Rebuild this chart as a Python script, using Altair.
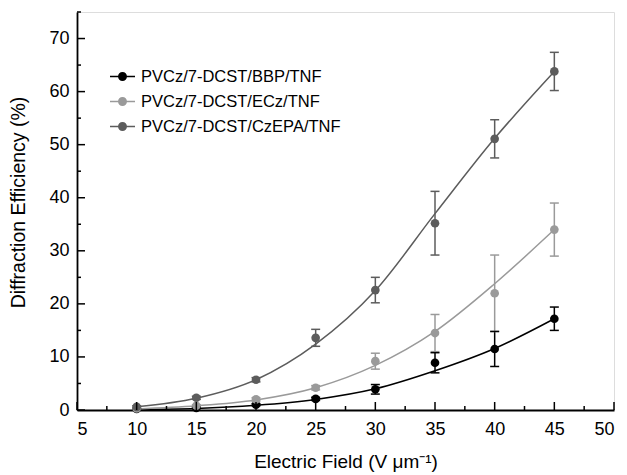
import altair as alt
import pandas as pd

series_names = ["PVCz/7-DCST/BBP/TNF", "PVCz/7-DCST/ECz/TNF", "PVCz/7-DCST/CzEPA/TNF"]
series_colors = ["#000000", "#9a9a9a", "#5c5c5c"]

fields = [10, 15, 20, 25, 30, 35, 40, 45]
bbp = [0.2, 0.4, 1.0, 2.1, 3.9, 8.9, 11.5, 17.2]
bbp_err = [0.1, 0.1, 0.2, 0.3, 0.9, 1.9, 3.3, 2.2]
ecz = [0.3, 0.8, 2.0, 4.2, 9.2, 14.5, 22.0, 34.0]
ecz_err = [0.1, 0.2, 0.3, 0.4, 1.5, 3.5, 7.2, 5.0]
czepa = [0.6, 2.3, 5.7, 13.6, 22.6, 35.2, 51.1, 63.8]
czepa_err = [0.2, 0.3, 0.4, 1.6, 2.4, 6.0, 3.6, 3.6]

bbp_fit = [0.1, 0.3, 0.9, 2.0, 4.0, 7.4, 11.6, 17.2]
ecz_fit = [0.2, 0.8, 1.9, 4.2, 8.4, 14.8, 23.8, 34.0]
czepa_fit = [0.6, 2.2, 5.7, 12.4, 22.5, 37.0, 51.2, 63.8]

x_major = [5, 10, 15, 20, 25, 30, 35, 40, 45, 50]
x_minor = [7.5, 12.5, 17.5, 22.5, 27.5, 32.5, 37.5, 42.5, 47.5]
y_major = [0, 10, 20, 30, 40, 50, 60, 70]
y_minor = [5, 15, 25, 35, 45, 55, 65, 75]

rows = []
for name, vals, errs, fits in zip(series_names, [bbp, ecz, czepa], [bbp_err, ecz_err, czepa_err],
                                  [bbp_fit, ecz_fit, czepa_fit]):
    for f, v, e, ft in zip(fields, vals, errs, fits):
        rows.append({"field": f, "value": v, "lo": v - e, "hi": v + e, "fit": ft, "series": name})
df = pd.DataFrame(rows)

W, H = 537, 398
FONT = "Liberation Sans"

xs = alt.Scale(domain=[5, 50], nice=False)
ys = alt.Scale(domain=[0, 75], nice=False)

legend_path = ("M-1,-0.06H1V0.06H-1Z "
               "M0.36,0A0.36,0.36,0,1,1,-0.36,0A0.36,0.36,0,1,1,0.36,0Z")
legend = alt.Legend(title=None, orient="none", legendX=33, legendY=52,
                    symbolType=legend_path, symbolSize=625, symbolStrokeWidth=0,
                    symbolOpacity=1, labelFont=FONT, labelFontSize=16.5, labelColor="black",
                    rowPadding=4, labelOffset=6, padding=0, labelLimit=400)
color = alt.Color("series:N", scale=alt.Scale(domain=series_names, range=series_colors),
                  legend=legend)

base = alt.Chart(df)

lines = base.mark_line(strokeWidth=1.5, interpolate="monotone").encode(
    x=alt.X("field:Q", scale=xs,
            axis=alt.Axis(values=x_major, title="Electric Field (V \u03bcm\u207b\u00b9)", ticks=False,
                          grid=False, domainColor="black", domainWidth=1.8, labelFont=FONT,
                          labelFontSize=18, labelColor="black", labelPadding=10, titleFont=FONT,
                          titleFontSize=19, titleFontWeight="normal", titleColor="black",
                          titlePadding=14)),
    y=alt.Y("fit:Q", scale=ys,
            axis=alt.Axis(values=y_major, title="Diffraction Efficiency (%)", ticks=False,
                          grid=False, domainColor="black", domainWidth=1.8, labelFont=FONT,
                          labelFontSize=18, labelColor="black", labelPadding=8, titleFont=FONT,
                          titleFontSize=19.5, titleFontWeight="normal", titleColor="black",
                          titlePadding=20, titleY=190)),
    color=color,
    detail="series:N",
)

err_rules = base.mark_rule(strokeWidth=1.5).encode(
    x="field:Q", y="lo:Q", y2="hi:Q", color=color)
cap_lo = base.mark_tick(orient="horizontal", size=9, thickness=1.5, opacity=1).encode(
    x="field:Q", y="lo:Q", color=color)
cap_hi = base.mark_tick(orient="horizontal", size=9, thickness=1.5, opacity=1).encode(
    x="field:Q", y="hi:Q", color=color)

points = base.mark_point(filled=True, size=75, opacity=1).encode(
    x="field:Q", y="value:Q", color=color)

xt_major = alt.Chart(pd.DataFrame({"t": x_major})).mark_rule(color="black", strokeWidth=1.5).encode(
    x=alt.X("t:Q", scale=xs), y=alt.value(H), y2=alt.value(H - 8))
xt_minor = alt.Chart(pd.DataFrame({"t": x_minor})).mark_rule(color="black", strokeWidth=1.5).encode(
    x=alt.X("t:Q", scale=xs), y=alt.value(H), y2=alt.value(H - 4))
yt_major = alt.Chart(pd.DataFrame({"t": y_major})).mark_rule(color="black", strokeWidth=1.5).encode(
    y=alt.Y("t:Q", scale=ys), x=alt.value(0), x2=alt.value(8))
yt_minor = alt.Chart(pd.DataFrame({"t": y_minor})).mark_rule(color="black", strokeWidth=1.5).encode(
    y=alt.Y("t:Q", scale=ys), x=alt.value(0), x2=alt.value(4))

chart = alt.layer(lines, err_rules, cap_lo, cap_hi, points, xt_major, xt_minor, yt_major, yt_minor).properties(
    width=W, height=H,
    autosize=alt.AutoSizeParams(type="none"),
    padding={"left": 69, "top": 4, "right": 5, "bottom": 64},
).configure_view(stroke=None).configure(background="white")

chart.save("out.html", embed_options={"renderer": "svg", "actions": False})
